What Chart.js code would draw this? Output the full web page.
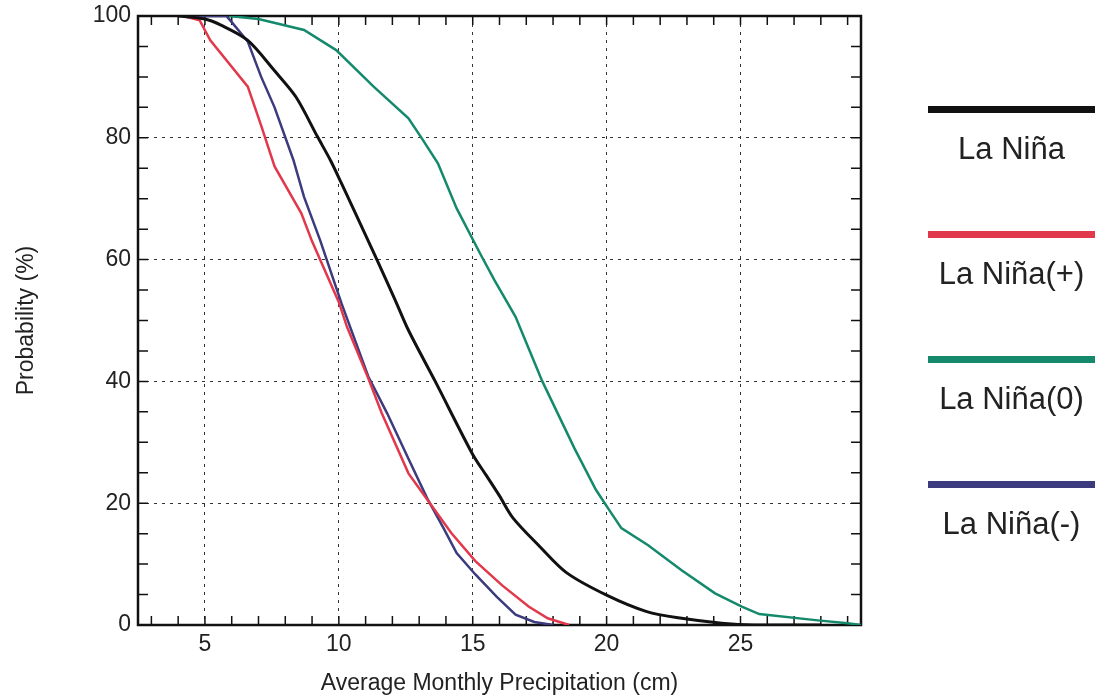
<!DOCTYPE html>
<html lang="en">
<head>
<meta charset="UTF-8">
<title>La Niña precipitation probability</title>
<script src="https://cdn.jsdelivr.net/npm/chart.js@4"></script>
<style>
  * { box-sizing: border-box; }
  body { margin: 0; background: #fff; font-family: 'Liberation Sans', Arial, sans-serif; color: #222; }
  .wrap { position: relative; width: 1099px; height: 700px; }
  .wrap canvas { position: absolute; left: 0; top: 0; }
  .legend-item { position: absolute; left: 928px; width: 167px; text-align: center; font-size: 31px; }
  .legend-item .swatch { height: 7px; width: 100%; }
  .legend-item span { display: block; margin-top: 20px; line-height: 31px; }
</style>
</head>
<body>
<div class="wrap">
  <canvas id="probChart" width="1099" height="700"></canvas>
  <div id="legend"></div>
</div>
<script>
  // Exceedance probability (%) against average monthly precipitation (cm)
  const laNinaX    = [4.0, 5.0, 5.6, 6.6, 7.6, 8.4, 9.2, 9.7, 10.1, 11.4, 12.1, 12.6, 13.6, 15.0, 15.5, 16.0, 16.5, 17.5, 18.5, 20.0, 21.5, 22.8, 24.3, 25.5, 28.0];
  const laNinaY    = [100, 99.5, 98.5, 96, 91, 86.7, 80.2, 76.2, 72.5, 60.2, 53.4, 48.4, 40, 28, 24.6, 21.2, 17.6, 12.9, 8.6, 4.9, 2.2, 1.1, 0.3, 0, 0];
  const plusX      = [4.2, 4.8, 5.2, 6.6, 7.1, 7.6, 8.6, 9.0, 10.0, 10.3, 11.1, 11.6, 12.6, 13.4, 14.2, 15.1, 16.1, 17.1, 17.8, 18.6];
  const plusY      = [100, 99.3, 96, 88.4, 82, 75.3, 67.6, 63, 53, 49, 40.5, 34.8, 24.9, 20, 15.1, 10.5, 6.5, 3, 1.1, 0];
  const zeroX      = [5.9, 7.0, 8.7, 9.9, 11.3, 12.6, 13.1, 13.7, 14.4, 15.3, 15.8, 16.6, 17.6, 18.8, 19.6, 20.05, 20.55, 21.55, 22.8, 24.05, 25.05, 25.7, 27.8, 29.0, 29.5];
  const zeroY      = [100, 99.5, 97.7, 94.4, 88.4, 83.2, 79.9, 75.8, 68.4, 60.8, 56.7, 50.6, 40, 29, 22.2, 19.2, 15.9, 13.1, 9.0, 5.2, 3.0, 1.8, 0.8, 0.3, 0];
  const minusX     = [4.2, 5.8, 6.0, 6.6, 7.1, 7.6, 8.3, 8.7, 9.3, 10.1, 11.1, 11.8, 12.6, 13.3, 13.9, 14.4, 15.1, 15.9, 16.6, 17.3, 18.0];
  const minusY     = [100, 100, 99, 95.8, 90, 85, 76.4, 70.3, 63.2, 52.8, 40.8, 34.8, 27.3, 20.8, 16, 11.8, 8.3, 4.6, 1.7, 0.5, 0];
  const xTicks = [5, 10, 15, 20, 25];
  const yTicks = [0, 20, 40, 60, 80, 100];

  const pts = (xs, ys) => xs.map((x, i) => ({ x, y: ys[i] }));
  const series = [
    { label: 'La Niña',    color: '#111111', data: pts(laNinaX, laNinaY), width: 3, tension: 0.3 },
    { label: 'La Niña(+)', color: '#e2384c', data: pts(plusX, plusY), width: 2.5, tension: 0 },
    { label: 'La Niña(0)', color: '#14896c', data: pts(zeroX, zeroY), width: 2.5, tension: 0 },
    { label: 'La Niña(-)', color: '#3c3b7e', data: pts(minusX, minusY), width: 2.5, tension: 0 }
  ];

  // box round the plot with inward ticks on all four sides
  const frame = {
    id: 'frame',
    beforeDatasetsDraw(chart) {
      const { ctx, chartArea: a, scales: { x, y } } = chart;
      ctx.save();
      ctx.strokeStyle = '#111';
      ctx.lineWidth = 1.5;
      ctx.beginPath();
      for (let v = 3; v <= 29; v++) {
        const px = x.getPixelForValue(v);
        ctx.moveTo(px, a.bottom); ctx.lineTo(px, a.bottom - 9);
        ctx.moveTo(px, a.top); ctx.lineTo(px, a.top + 9);
      }
      for (let v = 5; v < 100; v += 5) {
        const py = y.getPixelForValue(v);
        ctx.moveTo(a.left, py); ctx.lineTo(a.left + 10, py);
        ctx.moveTo(a.right, py); ctx.lineTo(a.right - 10, py);
      }
      ctx.stroke();
      ctx.lineWidth = 2.5;
      ctx.strokeRect(a.left, a.top, a.right - a.left, a.bottom - a.top);
      ctx.restore();
    }
  };

  Chart.defaults.font.family = "'Liberation Sans', Arial, sans-serif";
  Chart.defaults.color = '#222';

  const chart = new Chart(document.getElementById('probChart'), {
    type: 'line',
    data: {
      datasets: series.map(s => ({
        label: s.label, data: s.data, borderColor: s.color, backgroundColor: s.color,
        borderWidth: s.width, pointRadius: 0, tension: s.tension, fill: false
      }))
    },
    options: {
      responsive: false, animation: false,
      layout: { padding: { top: 16, right: 238, left: 0, bottom: 0 } },
      plugins: { legend: { display: false }, tooltip: { enabled: false } },
      scales: {
        x: {
          type: 'linear', min: 2.5, max: 29.5,
          afterBuildTicks: s => { s.ticks = xTicks.map(v => ({ value: v })); },
          afterFit: s => { s.height = 75; s.paddingLeft = 0; s.paddingRight = 0; },
          grid: { color: '#333', lineWidth: 1, drawTicks: false },
          border: { display: false, dash: [3, 5] },
          ticks: { font: { size: 23 }, padding: 6, maxRotation: 0, autoSkip: false },
          title: { display: true, text: 'Average Monthly Precipitation (cm)', font: { size: 23 }, padding: { top: 0, bottom: 3 } }
        },
        y: {
          type: 'linear', min: 0, max: 100,
          afterBuildTicks: s => { s.ticks = yTicks.map(v => ({ value: v })); },
          afterFit: s => { s.width = 138; s.paddingTop = 0; s.paddingBottom = 0; },
          grid: { color: '#333', lineWidth: 1, drawTicks: false },
          border: { display: false, dash: [3, 5] },
          ticks: { font: { size: 23 }, padding: 7 },
          title: { display: true, text: 'Probability (%)', font: { size: 23 }, padding: { top: 13, bottom: 0 } }
        }
      }
    },
    plugins: [frame]
  });

  // legend: thick sample line with the label centred underneath
  const legend = document.getElementById('legend');
  chart.data.datasets.forEach((ds, i) => {
    const item = document.createElement('div');
    item.className = 'legend-item';
    item.style.top = (106 + i * 125) + 'px';
    item.innerHTML = `<div class="swatch" style="background:${ds.borderColor}"></div><span>${ds.label}</span>`;
    legend.appendChild(item);
  });
</script>
</body>
</html>
